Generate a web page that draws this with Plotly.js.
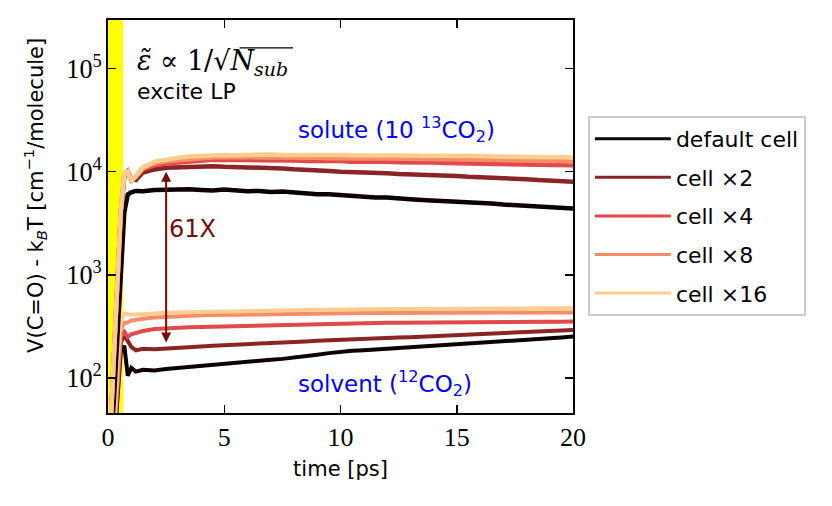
<!DOCTYPE html>
<html>
<head>
<meta charset="utf-8">
<script src="https://cdn.plot.ly/plotly-3.0.1.min.js"></script>
<style>
  html, body { margin: 0; padding: 0; background: white; }
  #chart { width: 832px; height: 506px; }
</style>
</head>
<body>
<div id="chart"></div>
<script>
// time axis [ps]
const time = [0, 0.1, 0.25, 0.4, 0.55, 0.7, 0.85, 1.0, 1.2, 1.5,
  2, 2.5, 3, 3.5, 4, 4.5, 5, 5.5, 6, 6.5, 7, 7.5, 8, 8.5, 9, 9.5, 10,
  10.5, 11, 11.5, 12, 12.5, 13, 13.5, 14, 14.5, 15, 15.5, 16, 16.5, 17,
  17.5, 18, 18.5, 19, 19.5, 20];

const cellLabels = ['default cell', 'cell ×2', 'cell ×4', 'cell ×8', 'cell ×16'];
const cellColors = ['#0d0000', '#8b2525', '#e04a4a', '#f98b68', '#fdcd8d'];

// solute (13CO2) energy per molecule
const soluteDefault = [1, 20, 60, 250, 1200, 4000, 6000, 6300, 6500, 6450,
  6650, 6700, 6600, 6750, 6650, 6550, 6700, 6550, 6450, 6500, 6350, 6400, 6250,
  6200, 6050, 6050, 5900, 5800, 5750, 5600, 5600, 5450, 5400, 5300, 5250, 5150,
  5100, 5000, 4950, 4900, 4800, 4750, 4650, 4600, 4500, 4450, 4400];
const soluteX2 = [1, 30, 150, 800, 3800, 9000, 10000, 8500, 8300, 9800,
  10500, 10900, 11000, 11200, 11100, 11300, 11150, 11100, 11000, 10950, 10800,
  10750, 10550, 10500, 10300, 10150, 10000, 9950, 9800, 9700, 9650, 9500, 9450,
  9300, 9250, 9100, 9050, 8900, 8850, 8700, 8650, 8500, 8450, 8300, 8250, 8150, 8000];
const soluteX4 = [1, 30, 150, 850, 4000, 9200, 10000, 8300, 8800, 10500,
  11500, 12000, 12300, 12600, 12800, 13000, 12950, 13050, 13000, 12900, 12950,
  12800, 12850, 12700, 12750, 12600, 12650, 12500, 12550, 12400, 12450, 12300,
  12350, 12200, 12250, 12100, 12050, 12000, 11950, 11900, 11850, 11800, 11750,
  11700, 11650, 11600, 11500];
const soluteX8 = [1, 30, 160, 900, 4200, 9500, 10000, 8200, 9000, 10800,
  12000, 12600, 13000, 13300, 13500, 13700, 13800, 13750, 13850, 13700, 13750,
  13650, 13650, 13600, 13650, 13500, 13550, 13450, 13500, 13400, 13400, 13300,
  13350, 13250, 13250, 13150, 13200, 13100, 13100, 13000, 13000, 12900, 12900,
  12800, 12700, 12650, 12500];
const soluteX16 = [1, 30, 160, 900, 4200, 9500, 10000, 8000, 9000, 11000,
  12500, 13200, 13600, 14000, 14200, 14400, 14500, 14450, 14600, 14550, 14650,
  14500, 14550, 14450, 14550, 14450, 14500, 14400, 14450, 14350, 14400, 14300,
  14350, 14250, 14300, 14200, 14250, 14150, 14150, 14050, 14050, 13950, 13950,
  13850, 13850, 13750, 13700];

// solvent (12CO2) energy per molecule
const solventDefault = [1, 8, 20, 70, 180, 205, 105, 125, 115, 120,
  118, 122, 125, 128, 132, 135, 138, 140, 143, 146, 150, 153, 157, 162, 168, 174,
  180, 183, 186, 189, 192, 195, 198, 200, 203, 206, 209, 213, 217, 221, 225, 229,
  233, 238, 242, 247, 252];
const solventX2 = [1, 8, 22, 80, 220, 260, 225, 200, 185, 192,
  190, 192, 196, 199, 202, 205, 207, 210, 212, 215, 218, 220, 223, 226, 229, 232,
  235, 237, 239, 241, 243, 246, 248, 251, 253, 256, 260, 263, 266, 269, 272, 275,
  278, 282, 285, 289, 292];
const solventX4 = [1, 8, 25, 90, 250, 280, 250, 265, 275, 285,
  298, 304, 308, 310, 312, 314, 315, 318, 320, 323, 325, 328, 330, 333, 335, 338,
  340, 341, 341, 342, 342, 343, 343, 344, 344, 345, 345, 346, 346, 347, 348, 348,
  349, 350, 350, 351, 352];
const solventX8 = [1, 8, 28, 110, 300, 340, 345, 360, 368, 375,
  385, 392, 398, 402, 405, 408, 410, 412, 414, 416, 418, 419, 420, 421, 422, 423,
  425, 425, 426, 426, 427, 427, 427, 428, 428, 428, 429, 429, 429, 429, 430, 430,
  430, 430, 431, 431, 431];
const solventX16 = [1, 8, 30, 130, 360, 420, 415, 410, 412, 415,
  425, 428, 432, 435, 438, 440, 442, 444, 446, 448, 450, 452, 454, 456, 458, 460,
  462, 463, 464, 465, 466, 466, 467, 468, 468, 469, 470, 470, 471, 471, 472, 472,
  473, 473, 474, 474, 475];

const soluteSeries = [soluteDefault, soluteX2, soluteX4, soluteX8, soluteX16];
const solventSeries = [solventDefault, solventX2, solventX4, solventX8, solventX16];

// minor tick positions of the log axis (2..9 in every decade)
const minorTicks = [50, 60, 70, 80, 90,
  200, 300, 400, 500, 600, 700, 800, 900,
  2000, 3000, 4000, 5000, 6000, 7000, 8000, 9000,
  20000, 30000, 40000, 50000, 60000, 70000, 80000, 90000,
  200000, 300000];

const SANS = 'DejaVu Sans, sans-serif';
const SERIF = 'Liberation Serif, DejaVu Serif, serif';
const MATH = 'DejaVu Serif, serif';
const Y_RANGE = [1.66, 5.47];

const traces = [];
solventSeries.forEach((ys, i) => {
  traces.push({
    x: time, y: ys, type: 'scatter', mode: 'lines',
    line: { color: cellColors[i], width: 4 },
    showlegend: false, hoverinfo: 'skip'
  });
});
soluteSeries.forEach((ys, i) => {
  traces.push({
    x: time, y: ys, type: 'scatter', mode: 'lines',
    line: { color: cellColors[i], width: 4.5 },
    showlegend: false, hoverinfo: 'skip'
  });
});
// legend entries (thinner sample lines, like the reference)
cellLabels.forEach((label, i) => {
  traces.push({
    x: [null], y: [null], type: 'scatter', mode: 'lines', name: label,
    legendgroup: 'g' + i, line: { color: cellColors[i], width: 3 }
  });
});

const layout = {
  width: 832, height: 506,
  margin: { l: 108, r: 259, t: 20, b: 93 },
  paper_bgcolor: 'white', plot_bgcolor: 'white',
  font: { family: SANS, color: 'black' },
  xaxis: {
    range: [0, 20], dtick: 5, showgrid: false, zeroline: false,
    showline: true, linecolor: 'black', linewidth: 2, mirror: 'ticks',
    ticks: 'inside', ticklen: 8, tickwidth: 1.5, tickcolor: 'black',
    tickfont: { family: SERIF, size: 26 },
    title: { text: 'time [ps]', font: { family: SANS, size: 21 }, standoff: 10 }
  },
  yaxis: {
    type: 'log', range: Y_RANGE, dtick: 1, exponentformat: 'power',
    showgrid: false, zeroline: false,
    showline: true, linecolor: 'black', linewidth: 2, mirror: 'ticks',
    ticks: 'inside', ticklen: 8, tickwidth: 1.5, tickcolor: 'black',
    tickfont: { family: SERIF, size: 21 }
  },
  // overlay axis only for the minor ticks
  yaxis2: {
    type: 'log', range: Y_RANGE, overlaying: 'y', anchor: 'x', side: 'left',
    tickmode: 'array', tickvals: minorTicks, showticklabels: false,
    showgrid: false, zeroline: false,
    showline: true, linecolor: 'black', linewidth: 2, mirror: 'ticks',
    ticks: 'inside', ticklen: 4, tickwidth: 1, tickcolor: 'black'
  },
  legend: {
    x: 1.032, y: 0.756, xanchor: 'left', yanchor: 'top',
    bgcolor: 'white', bordercolor: '#cccccc', borderwidth: 2,
    font: { family: SANS, size: 22 }, tracegroupgap: 7, traceorder: 'grouped',
    itemwidth: 76
  },
  shapes: [
    { type: 'rect', xref: 'x', yref: 'paper', x0: 0, x1: 0.65, y0: 0, y1: 1,
      fillcolor: '#ffff00', line: { width: 0 }, layer: 'below' },
    // overbar of the square root
    { type: 'line', xref: 'paper', yref: 'paper', x0: 0.283, x1: 0.398, y0: 0.929, y1: 0.929,
      line: { color: 'black', width: 1.2 } }
  ],
  annotations: [
    { xref: 'paper', yref: 'paper', x: -0.157, y: 0.555, xanchor: 'center', textangle: -90, showarrow: false,
      text: 'V(C=O) - k<sub><i>B</i></sub>T [cm<sup>−1</sup>/molecule]',
      font: { family: SANS, size: 21, color: 'black' } },
    { xref: 'x', yref: 'y', x: 1.15, y: 5.06, xanchor: 'left', showarrow: false,
      text: '<i>ε̃</i> ∝ 1/√<i>N</i><sub><i>sub</i></sub>',
      font: { family: MATH, size: 27, color: 'black' } },
    { xref: 'x', yref: 'y', x: 1.15, y: 4.78, xanchor: 'left', showarrow: false,
      text: 'excite LP', font: { family: SANS, size: 22, color: 'black' } },
    { xref: 'x', yref: 'y', x: 12.4, y: 4.41, showarrow: false,
      text: 'solute (10 <sup>13</sup>CO<sub>2</sub>)', font: { family: SANS, size: 23, color: '#0000ff' } },
    { xref: 'x', yref: 'y', x: 11.9, y: 1.95, showarrow: false,
      text: 'solvent (<sup>12</sup>CO<sub>2</sub>)', font: { family: SANS, size: 23, color: '#0000ff' } },
    { xref: 'x', yref: 'y', x: 3.65, y: 3.44, showarrow: false,
      text: '61X', font: { family: SANS, size: 24, color: '#7a0a0a' } },
    { xref: 'x', yref: 'y', x: 2.5, y: 4.0, axref: 'x', ayref: 'y', ax: 2.5, ay: 2.33,
      text: '', showarrow: true, arrowside: 'end+start', arrowhead: 2, arrowsize: 1,
      arrowwidth: 2, arrowcolor: '#7a0a0a', standoff: 0, startstandoff: 0 }
  ]
};

Plotly.newPlot('chart', traces, layout, { displayModeBar: false, staticPlot: true });
</script>
</body>
</html>
